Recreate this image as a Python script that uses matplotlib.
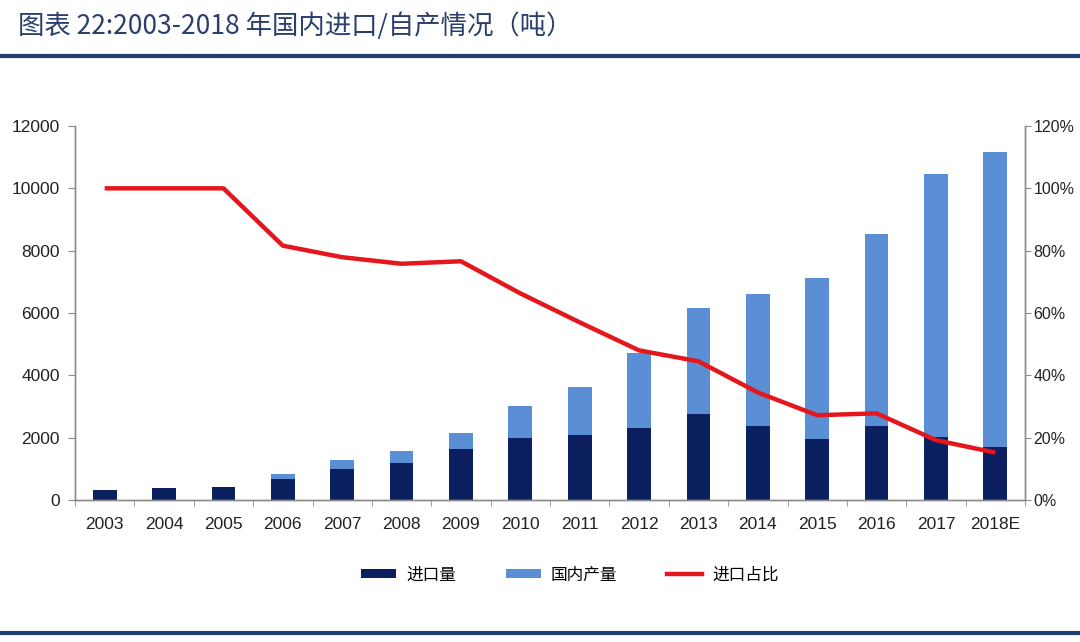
import matplotlib
matplotlib.use('Agg')
import matplotlib.pyplot as plt
from matplotlib.lines import Line2D
from matplotlib.patches import Patch
import numpy as np

years = ['2003', '2004', '2005', '2006', '2007', '2008', '2009', '2010',
         '2011', '2012', '2013', '2014', '2015', '2016', '2017', '2018E']
# 进口量 (吨)
imports = [320, 370, 430, 680, 990, 1190, 1640, 2000,
           2070, 2310, 2750, 2360, 1970, 2380, 2020, 1700]
# 国内产量 (吨)
domestic = [0, 0, 0, 160, 280, 380, 500, 1010,
            1550, 2420, 3400, 4240, 5150, 6160, 8440, 9470]
# 进口占比 (%)
import_share = [100, 100, 100, 81.6, 77.9, 75.8, 76.6, 66.3,
                57.0, 48.0, 44.5, 34.5, 27.2, 27.8, 19.2, 15.2]

left_ticks = [0, 2000, 4000, 6000, 8000, 10000, 12000]
right_ticks = [0, 20, 40, 60, 80, 100, 120]

dark = '#0c1f5e'
light = '#5a8fd6'
red = '#e5161c'
grey = '#8c8c8c'
band = '#1f3f73'
cjk = ['Noto Sans CJK SC', 'DejaVu Sans']
num_font = 'Liberation Sans'

fig = plt.figure(figsize=(10.8, 6.42), dpi=100)
fig.patch.set_facecolor('white')

# header / footer
fig.text(18 / 1080, 1 - 26 / 642, '图表 22:2003-2018 年国内进口/自产情况（吨）',
         family=cjk, fontsize=19, color='#2a3f6b', va='center', ha='left')
fig.add_artist(Line2D([0, 1], [1 - 55.5 / 642] * 2, color=band, lw=3,
                      transform=fig.transFigure))
fig.add_artist(Line2D([0, 1], [1 - 633 / 642] * 2, color=band, lw=3,
                      transform=fig.transFigure))

ax = fig.add_axes([75 / 1080, 1 - 500 / 642, (1025 - 75) / 1080, (500 - 126) / 642])
x = np.arange(len(years))
w = 0.4
ax.bar(x, imports, w, color=dark, zorder=2)
ax.bar(x, domestic, w, bottom=imports, color=light, zorder=2)

ax.set_xlim(-0.5, len(years) - 0.5)
ax.set_ylim(0, 12000)
ax.set_yticks(left_ticks)
ax.set_yticklabels([str(v) for v in left_ticks], family=num_font, fontsize=12.5)
ax.set_xticks(x)
ax.set_xticklabels(years, family=num_font, fontsize=12.5)
ax.set_xticks(np.arange(-0.5, len(years), 1), minor=True)
ax.tick_params(axis='x', which='major', length=0, pad=12, colors='#222222')
ax.tick_params(axis='x', which='minor', length=4, color=grey)
ax.tick_params(axis='y', length=5, color=grey, colors='#222222', pad=6)

ax2 = ax.twinx()
ax2.plot(x, import_share, color=red, lw=3.2, zorder=3, solid_capstyle='butt')
ax2.set_ylim(0, 120)
ax2.set_yticks(right_ticks)
ax2.set_yticklabels(['%d%%' % v for v in right_ticks], family=num_font, fontsize=11.5)
ax2.tick_params(axis='y', length=4, color=grey, colors='#222222', pad=2)

for a in (ax, ax2):
    a.spines['top'].set_visible(False)
    for s in ('left', 'right', 'bottom'):
        a.spines[s].set_color(grey)
        a.spines[s].set_linewidth(1)

handles = [Patch(facecolor=dark, edgecolor='none'),
           Patch(facecolor=light, edgecolor='none'),
           Line2D([0], [0], color=red, lw=3.2)]
fig.legend(handles, ['进口量', '国内产量', '进口占比'], loc='center',
           bbox_to_anchor=(570 / 1080, 1 - 575 / 642), ncol=3, frameon=False,
           prop={'family': cjk, 'size': 12}, handlelength=2.1, handleheight=0.5,
           columnspacing=3.0, handletextpad=0.6)

fig.savefig('out.png', dpi=100, facecolor='white')
